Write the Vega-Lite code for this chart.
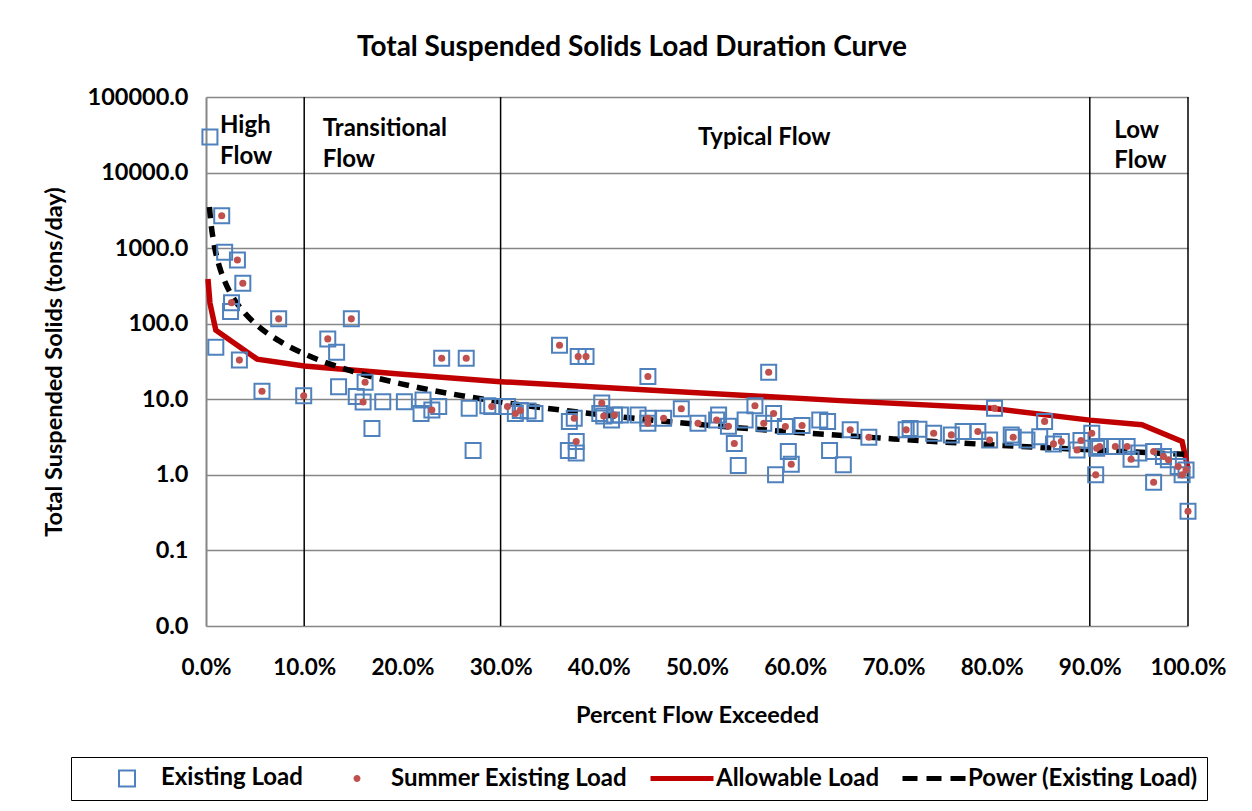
{
  "$schema": "https://vega.github.io/schema/vega-lite/v6.json",
  "width": 982,
  "height": 529,
  "autosize": {"type": "none"},
  "padding": {"left": 206, "top": 97, "right": 64, "bottom": 185},
  "background": "white",
  "title": {
    "text": "Total Suspended Solids Load Duration Curve",
    "font": "Lato", "fontSize": 28, "fontWeight": "bold", "color": "black",
    "anchor": "middle", "frame": "group", "dx": -65, "offset": 23
  },
  "config": {
    "view": {"stroke": null},
    "font": "Lato"
  },
  "datasets": {
    "pts": [
      {"pct": 0.4, "tss": 29500, "summer": 0},
      {"pct": 1.6, "tss": 2690, "summer": 1},
      {"pct": 1.9, "tss": 880, "summer": 0},
      {"pct": 3.2, "tss": 695, "summer": 1},
      {"pct": 3.75, "tss": 344, "summer": 1},
      {"pct": 2.6, "tss": 190, "summer": 1},
      {"pct": 2.5, "tss": 145, "summer": 0},
      {"pct": 7.4, "tss": 116, "summer": 1},
      {"pct": 1.0, "tss": 49, "summer": 0},
      {"pct": 3.4, "tss": 33, "summer": 1},
      {"pct": 14.8, "tss": 116, "summer": 1},
      {"pct": 12.4, "tss": 63, "summer": 1},
      {"pct": 13.3, "tss": 42, "summer": 0},
      {"pct": 5.7, "tss": 12.8, "summer": 1},
      {"pct": 9.95, "tss": 11.1, "summer": 1},
      {"pct": 13.5, "tss": 14.7, "summer": 0},
      {"pct": 16.2, "tss": 16.8, "summer": 1},
      {"pct": 15.3, "tss": 10.9, "summer": 0},
      {"pct": 16.0, "tss": 9.2, "summer": 1},
      {"pct": 16.9, "tss": 4.1, "summer": 0},
      {"pct": 18.0, "tss": 9.3, "summer": 0},
      {"pct": 20.2, "tss": 9.3, "summer": 0},
      {"pct": 22.1, "tss": 9.8, "summer": 0},
      {"pct": 21.9, "tss": 6.5, "summer": 0},
      {"pct": 23.0, "tss": 7.2, "summer": 1},
      {"pct": 23.7, "tss": 8.0, "summer": 0},
      {"pct": 24.0, "tss": 35, "summer": 1},
      {"pct": 26.5, "tss": 35, "summer": 1},
      {"pct": 26.8, "tss": 7.6, "summer": 0},
      {"pct": 27.2, "tss": 2.1, "summer": 0},
      {"pct": 28.7, "tss": 8.2, "summer": 0},
      {"pct": 29.1, "tss": 8.0, "summer": 1},
      {"pct": 30.7, "tss": 8.0, "summer": 1},
      {"pct": 31.5, "tss": 6.5, "summer": 1},
      {"pct": 32.0, "tss": 7.1, "summer": 1},
      {"pct": 32.8, "tss": 7.0, "summer": 0},
      {"pct": 33.5, "tss": 6.5, "summer": 0},
      {"pct": 36.0, "tss": 52, "summer": 1},
      {"pct": 37.9, "tss": 36.7, "summer": 1},
      {"pct": 38.7, "tss": 36.7, "summer": 1},
      {"pct": 37.0, "tss": 5.1, "summer": 0},
      {"pct": 37.5, "tss": 5.6, "summer": 1},
      {"pct": 37.7, "tss": 2.76, "summer": 1},
      {"pct": 36.9, "tss": 2.1, "summer": 0},
      {"pct": 37.7, "tss": 1.94, "summer": 0},
      {"pct": 40.3, "tss": 8.9, "summer": 1},
      {"pct": 40.1, "tss": 6.5, "summer": 0},
      {"pct": 40.5, "tss": 6.0, "summer": 1},
      {"pct": 41.3, "tss": 5.3, "summer": 0},
      {"pct": 41.6, "tss": 6.2, "summer": 1},
      {"pct": 42.2, "tss": 6.2, "summer": 0},
      {"pct": 44.0, "tss": 6.2, "summer": 0},
      {"pct": 45.0, "tss": 5.6, "summer": 1},
      {"pct": 45.0, "tss": 4.8, "summer": 1},
      {"pct": 45.0, "tss": 20, "summer": 1},
      {"pct": 46.6, "tss": 5.6, "summer": 1},
      {"pct": 48.4, "tss": 7.5, "summer": 1},
      {"pct": 50.1, "tss": 4.8, "summer": 1},
      {"pct": 52.0, "tss": 5.3, "summer": 1},
      {"pct": 52.2, "tss": 6.2, "summer": 0},
      {"pct": 53.2, "tss": 4.4, "summer": 1},
      {"pct": 53.8, "tss": 2.6, "summer": 1},
      {"pct": 54.2, "tss": 1.33, "summer": 0},
      {"pct": 54.9, "tss": 5.3, "summer": 0},
      {"pct": 55.9, "tss": 8.2, "summer": 1},
      {"pct": 57.3, "tss": 22.8, "summer": 1},
      {"pct": 56.8, "tss": 4.8, "summer": 1},
      {"pct": 57.8, "tss": 6.5, "summer": 1},
      {"pct": 59.0, "tss": 4.36, "summer": 1},
      {"pct": 59.3, "tss": 2.03, "summer": 0},
      {"pct": 59.6, "tss": 1.38, "summer": 1},
      {"pct": 58.0, "tss": 1.0, "summer": 0},
      {"pct": 60.7, "tss": 4.5, "summer": 1},
      {"pct": 62.5, "tss": 5.3, "summer": 0},
      {"pct": 63.3, "tss": 5.1, "summer": 0},
      {"pct": 63.5, "tss": 2.1, "summer": 0},
      {"pct": 64.9, "tss": 1.36, "summer": 0},
      {"pct": 65.6, "tss": 3.94, "summer": 1},
      {"pct": 67.5, "tss": 3.15, "summer": 1},
      {"pct": 71.3, "tss": 3.94, "summer": 1},
      {"pct": 71.7, "tss": 4.1, "summer": 0},
      {"pct": 72.6, "tss": 4.0, "summer": 0},
      {"pct": 74.1, "tss": 3.55, "summer": 1},
      {"pct": 75.9, "tss": 3.38, "summer": 1},
      {"pct": 77.1, "tss": 3.74, "summer": 0},
      {"pct": 78.6, "tss": 3.74, "summer": 1},
      {"pct": 79.8, "tss": 2.9, "summer": 1},
      {"pct": 80.3, "tss": 7.6, "summer": 1},
      {"pct": 82.0, "tss": 3.38, "summer": 0},
      {"pct": 82.2, "tss": 3.15, "summer": 1},
      {"pct": 83.6, "tss": 2.9, "summer": 0},
      {"pct": 84.9, "tss": 3.2, "summer": 0},
      {"pct": 85.4, "tss": 5.1, "summer": 1},
      {"pct": 86.3, "tss": 2.57, "summer": 1},
      {"pct": 87.1, "tss": 2.76, "summer": 1},
      {"pct": 88.7, "tss": 2.14, "summer": 1},
      {"pct": 89.1, "tss": 2.85, "summer": 1},
      {"pct": 90.2, "tss": 3.55, "summer": 1},
      {"pct": 90.6, "tss": 1.0, "summer": 1},
      {"pct": 90.7, "tss": 2.25, "summer": 1},
      {"pct": 91.0, "tss": 2.37, "summer": 1},
      {"pct": 92.6, "tss": 2.37, "summer": 1},
      {"pct": 93.8, "tss": 2.37, "summer": 1},
      {"pct": 94.2, "tss": 1.61, "summer": 1},
      {"pct": 95.0, "tss": 1.94, "summer": 0},
      {"pct": 96.5, "tss": 2.03, "summer": 1},
      {"pct": 96.5, "tss": 0.8, "summer": 1},
      {"pct": 97.5, "tss": 1.75, "summer": 1},
      {"pct": 98.0, "tss": 1.58, "summer": 1},
      {"pct": 99.0, "tss": 1.29, "summer": 1},
      {"pct": 99.4, "tss": 1.0, "summer": 1},
      {"pct": 99.8, "tss": 1.16, "summer": 1},
      {"pct": 100.0, "tss": 0.33, "summer": 1}
    ],
    "allow": [
      {"pct": 0.2, "tss": 390},
      {"pct": 0.4, "tss": 188},
      {"pct": 1.0, "tss": 82},
      {"pct": 5.2, "tss": 34},
      {"pct": 10, "tss": 27.5},
      {"pct": 20, "tss": 21.5},
      {"pct": 30, "tss": 17.1},
      {"pct": 45, "tss": 13.3},
      {"pct": 64.6, "tss": 9.6},
      {"pct": 80, "tss": 7.6},
      {"pct": 90, "tss": 5.3},
      {"pct": 95.3, "tss": 4.6},
      {"pct": 99.4, "tss": 2.76},
      {"pct": 100, "tss": 1.2}
    ],
    "power": [
      {"pct": 0.35, "tss": 3490},
      {"pct": 0.5, "tss": 2170},
      {"pct": 0.75, "tss": 1270},
      {"pct": 1, "tss": 861},
      {"pct": 1.5, "tss": 502},
      {"pct": 2, "tss": 342},
      {"pct": 3, "tss": 199},
      {"pct": 4, "tss": 136},
      {"pct": 5, "tss": 101},
      {"pct": 7.5, "tss": 58.7},
      {"pct": 10, "tss": 40},
      {"pct": 15, "tss": 23.3},
      {"pct": 20, "tss": 15.9},
      {"pct": 30, "tss": 9.24},
      {"pct": 40, "tss": 6.3},
      {"pct": 50, "tss": 4.68},
      {"pct": 60, "tss": 3.67},
      {"pct": 70, "tss": 2.99},
      {"pct": 80, "tss": 2.5},
      {"pct": 90, "tss": 2.14},
      {"pct": 100, "tss": 1.86}
    ],
    "dividers": [{"pct": 10}, {"pct": 30}, {"pct": 90}, {"pct": 100}],
    "zones": [
      {"pct": 1.43, "tss": 33400, "txt": "High"},
      {"pct": 1.43, "tss": 13000, "txt": "Flow"},
      {"pct": 11.9, "tss": 30500, "txt": "Transitional"},
      {"pct": 11.9, "tss": 11900, "txt": "Flow"},
      {"pct": 50.1, "tss": 23200, "txt": "Typical Flow"},
      {"pct": 92.5, "tss": 28700, "txt": "Low"},
      {"pct": 92.5, "tss": 11500, "txt": "Flow"}
    ]
  },
  "encoding": {
    "x": {
      "field": "pct", "type": "quantitative",
      "scale": {"domain": [0, 100], "nice": false},
      "axis": {
        "values": [0, 10, 20, 30, 40, 50, 60, 70, 80, 90, 100],
        "labelExpr": "format(datum.value, '.1f') + '%'",
        "grid": false, "domain": false, "ticks": false,
        "labelPadding": 30, "labelFont": "Lato", "labelFontSize": 22.5, "labelFontWeight": "bold", "labelColor": "black",
        "labelFlush": false,
        "title": "Percent Flow Exceeded", "titleFont": "Lato", "titleFontSize": 23.5, "titleFontWeight": "bold", "titleColor": "black",
        "titlePadding": 25
      }
    },
    "y": {
      "field": "tss", "type": "quantitative",
      "scale": {"type": "log", "domain": [0.01, 100000], "nice": false},
      "axis": {
        "values": [0.01, 0.1, 1, 10, 100, 1000, 10000, 100000],
        "format": ".1f",
        "grid": true, "gridColor": "#868686", "gridWidth": 1.5,
        "domain": true, "domainColor": "#868686", "domainWidth": 2,
        "ticks": false, "labelPadding": 18,
        "labelFont": "Lato", "labelFontSize": 23.5, "labelFontWeight": "bold", "labelColor": "black",
        "labelFlush": false,
        "title": "Total Suspended Solids (tons/day)", "titleFont": "Lato", "titleFontSize": 23.5, "titleFontWeight": "bold", "titleColor": "black",
        "titlePadding": 21
      }
    }
  },
  "layer": [
    {
      "data": {"name": "dividers"},
      "mark": {"type": "rule", "color": "black", "strokeWidth": 1.5},
      "encoding": {"y": null}
    },
    {
      "data": {"name": "allow"},
      "mark": {"type": "line", "strokeWidth": 5.5, "interpolate": "linear"},
      "encoding": {
        "color": {
          "datum": "Allowable Load", "type": "nominal",
          "scale": {
            "domain": ["Existing Load", "Summer Existing Load", "Allowable Load", "Power (Existing Load)"],
            "range": ["#4F81BD", "#C0504D", "#C00000", "#000000"]
          },
          "legend": {
            "title": null, "orient": "none", "legendX": -135, "legendY": 660,
            "direction": "horizontal", "columns": 4, "columnPadding": 7,
            "symbolType": "stroke", "symbolSize": 3969, "symbolStrokeWidth": 5,
            "symbolOffset": 35,
            "labelFont": "Lato", "labelFontSize": 24, "labelFontWeight": "bold", "labelColor": "black",
            "labelOffset": 22, "labelLimit": 500,
            "strokeColor": "black", "padding": 9,
            "encode": {
              "symbols": {
                "update": {
                  "shape": {"signal": "datum.value == 'Existing Load' ? 'M-0.254,-0.254H0.254V0.254H-0.254Z' : datum.value == 'Summer Existing Load' ? 'M-0.11,0A0.11,0.11,0,1,1,0.11,0A0.11,0.11,0,1,1,-0.11,0Z' : 'M-1,0L1,0'"},
                  "size": {"value": 3969},
                  "fill": {"signal": "datum.value == 'Summer Existing Load' ? '#C0504D' : 'transparent'"},
                  "stroke": {"signal": "datum.value == 'Existing Load' ? '#4F81BD' : datum.value == 'Summer Existing Load' ? '#C0504D' : datum.value == 'Allowable Load' ? '#C00000' : '#000000'"},
                  "fillOpacity": {"signal": "datum.value == 'Summer Existing Load' ? 1 : 0"},
                  "strokeWidth": {"signal": "datum.value == 'Existing Load' ? 2 : datum.value == 'Summer Existing Load' ? 0 : 5"},
                  "strokeDash": {"signal": "datum.value == 'Power (Existing Load)' ? [15, 9] : [1, 0]"},
                  "opacity": {"value": 1}
                }
              }
            }
          }
        }
      }
    },
    {
      "data": {"name": "power"},
      "mark": {"type": "line", "strokeWidth": 5.5, "strokeDash": [11, 8], "interpolate": "monotone"},
      "encoding": {"color": {"datum": "Power (Existing Load)", "type": "nominal"}}
    },
    {
      "data": {"name": "pts"},
      "mark": {"type": "point", "shape": "square", "filled": false, "size": 225, "strokeWidth": 2, "opacity": 1},
      "encoding": {"color": {"datum": "Existing Load", "type": "nominal"}}
    },
    {
      "data": {"name": "pts"},
      "transform": [{"filter": "datum.summer == 1"}],
      "mark": {"type": "point", "shape": "circle", "filled": true, "size": 50, "opacity": 1},
      "encoding": {"color": {"datum": "Summer Existing Load", "type": "nominal"}}
    },
    {
      "data": {"name": "zones"},
      "mark": {"type": "text", "align": "left", "baseline": "alphabetic", "font": "Lato", "fontSize": 24, "fontWeight": "bold", "color": "black"},
      "encoding": {"text": {"field": "txt"}}
    }
  ]
}
